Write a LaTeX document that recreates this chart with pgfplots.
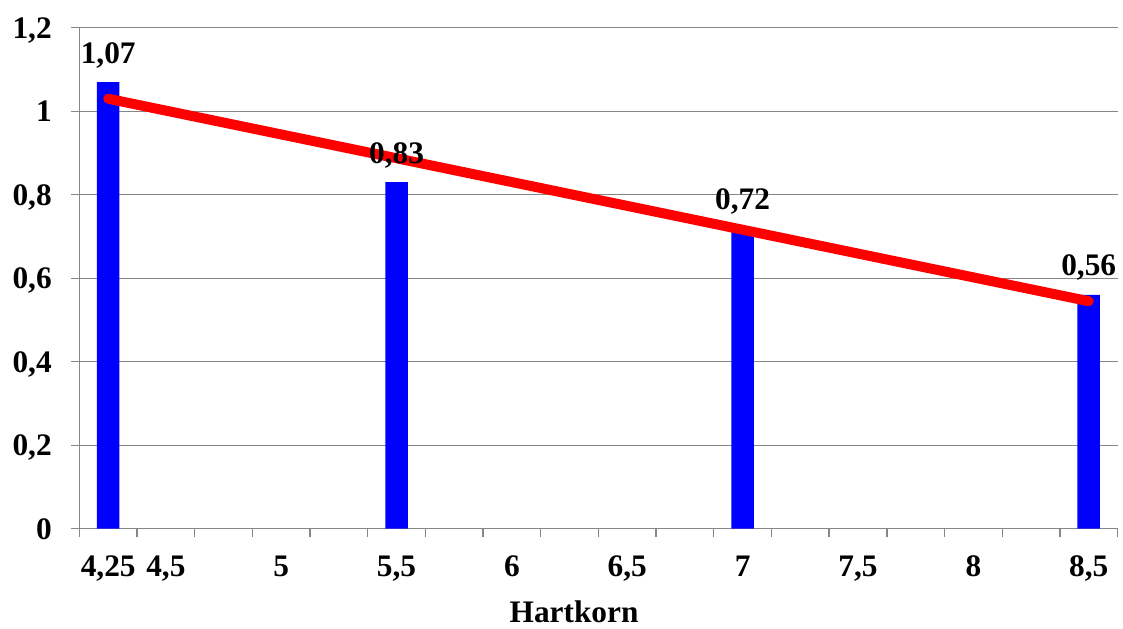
\documentclass[border=0pt]{standalone}
\usepackage{pgfplots}
\pgfplotsset{compat=1.18}
\usepackage{fontspec}
\setmainfont{Liberation Serif}
\definecolor{gridgray}{RGB}{134,134,134}
\newcommand{\cf}{\fontsize{23.5}{28}\selectfont\bfseries}
\pgfplotstableread{
x y lab
4.25 1.07 1,07
5.5 0.83 0,83
7 0.72 0,72
8.5 0.56 0,56
}\bardata
\begin{document}
\begin{tikzpicture}
\begin{axis}[
  name=ax,
  width=778.65pt, height=375.75pt, scale only axis,
  xmin=4.125, xmax=8.625, ymin=0, ymax=1.2,
  axis lines*=left,
  axis line style={gridgray, line width=1pt},
  tick style={gridgray, line width=1pt},
  tick align=outside,
  major tick length=6.5pt,
  xtick={4.125,4.375,4.625,4.875,5.125,5.375,5.625,5.875,6.125,6.375,6.625,6.875,7.125,7.375,7.625,7.875,8.125,8.375,8.625},
  xticklabels={},
  extra x ticks={4.25,4.5,5,5.5,6,6.5,7,7.5,8,8.5},
  extra x tick labels={{4,25},{4,5},5,{5,5},6,{6,5},7,{7,5},8,{8,5}},
  extra x tick style={major tick length=0pt, grid=none,
     xticklabel style={anchor=base, inner sep=0pt, yshift=-36pt}},
  ytick={0,0.2,0.4,0.6,0.8,1,1.2},
  yticklabels={0,{0,2},{0,4},{0,6},{0,8},1,{1,2}},
  yticklabel style={anchor=base east, inner sep=0pt, yshift=-7.9pt, xshift=-14pt},
  tick label style={font=\cf, text=black},
  ymajorgrids,
  grid style={gridgray, line width=1pt},
  xlabel={Hartkorn},
  every axis x label/.style={at={(axis description cs:0.5,0)}, anchor=base, inner sep=0pt, yshift=-70.5pt, xshift=-18.3pt, font=\cf},
  clip=false,
]
\addplot[ybar, bar width=16.9pt, fill=blue, draw=none,
  point meta=explicit symbolic, nodes near coords,
  nodes near coords align={anchor=base},
  every node near coord/.append style={font=\cf, text=black, yshift=14.25pt}]
  table[x=x, y=y, meta=lab] {\bardata};
\addplot[red, line width=7.5pt, line cap=round] coordinates {(4.25,1.03) (8.5,0.545)};
\end{axis}
\path (ax.south west) ++(-59.5pt,-74.5pt) coordinate (bbA);
\path (ax.north east) ++(4.1pt,20.8pt) coordinate (bbB);
\pgfresetboundingbox
\path[use as bounding box] (bbA) rectangle (bbB);
\end{tikzpicture}
\end{document}
